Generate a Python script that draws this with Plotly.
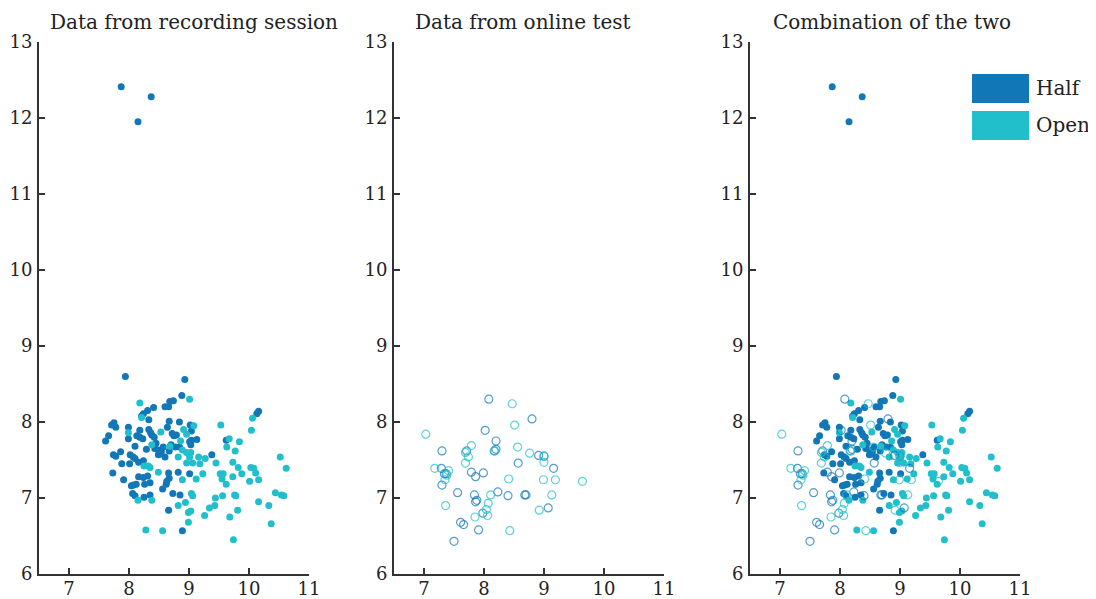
import plotly.graph_objects as go

# recording session, "Half" condition
rec_half_x = [7.87, 8.37, 8.15,
              7.94, 8.93, 8.88, 8.68, 8.74, 8.41, 8.31, 8.24, 8.21, 8.33, 8.60, 8.66,
              8.67, 8.84, 9.02, 7.75, 7.71, 7.78, 7.99, 8.18, 8.33, 8.36, 8.38, 8.42,
              8.64, 9.04, 7.66, 7.61, 7.99, 8.13, 8.18, 8.23, 8.72, 8.75, 8.79, 9.01,
              9.04, 9.13, 9.03, 8.10, 8.29, 8.43, 8.49, 8.54, 8.57, 8.67, 8.77, 8.84,
              7.86, 7.74, 7.78, 8.02, 8.07, 8.10, 8.49, 8.60, 8.16, 7.88, 8.01, 8.24,
              9.38, 9.62, 10.13, 10.16, 7.73, 7.91, 8.16, 8.24, 8.31, 8.35, 8.66, 8.67,
              8.63, 8.62, 8.82, 9.01, 8.04, 8.08, 8.12, 8.26, 8.06, 8.10, 8.25, 8.35,
              8.56, 8.73, 8.85, 8.66, 8.89, 8.70, 8.52, 8.45]
rec_half_y = [12.41, 12.28, 11.95,
              8.60, 8.56, 8.35, 8.27, 8.28, 8.19, 8.15, 8.11, 8.08, 8.03, 8.20, 8.20,
              8.01, 8.00, 7.96, 7.99, 7.96, 7.93, 7.93, 7.89, 7.90, 7.86, 7.83, 7.80,
              7.93, 7.88, 7.82, 7.75, 7.78, 7.82, 7.80, 7.78, 7.85, 7.82, 7.83, 7.74,
              7.76, 7.77, 7.70, 7.68, 7.64, 7.65, 7.63, 7.61, 7.67, 7.62, 7.67, 7.67,
              7.61, 7.57, 7.55, 7.57, 7.54, 7.52, 7.57, 7.54, 7.47, 7.45, 7.45, 7.49,
              7.57, 7.76, 8.11, 8.14, 7.33, 7.24, 7.28, 7.27, 7.29, 7.20, 7.33, 7.26,
              7.22, 7.18, 7.34, 7.32, 7.16, 7.17, 7.18, 7.18, 7.06, 7.03, 7.01, 7.04,
              7.12, 7.06, 7.04, 6.84, 6.57, 7.70, 7.58, 7.72]

# recording session, "Open" condition
rec_open_x = [8.18, 9.01, 8.21, 7.99, 8.53, 8.91, 8.96, 9.08, 8.86, 8.38, 8.68, 8.89,
              8.96, 9.03, 8.82, 9.01, 8.25, 8.32, 8.35, 8.49, 8.96, 9.06, 9.18, 9.27,
              9.16, 8.89, 9.12, 9.23, 9.53, 10.06, 10.04, 9.67, 9.84, 9.63, 9.77, 9.45,
              9.52, 9.57, 9.55, 9.62, 9.73, 9.82, 9.73, 9.88, 10.03, 10.08, 10.11, 10.16,
              10.01, 10.52, 10.62, 9.56, 9.44, 9.04, 9.06, 8.94, 8.82, 9.03, 8.99, 9.34,
              9.43, 9.26, 9.76, 9.78, 9.81, 9.68, 10.16, 10.33, 10.44, 10.54, 10.58, 10.37,
              8.99, 8.28, 8.56, 9.74, 8.15, 8.38]
rec_open_y = [8.25, 8.30, 8.06, 7.86, 7.87, 7.90, 7.84, 7.95, 7.75, 7.70, 7.68, 7.63,
              7.60, 7.60, 7.54, 7.54, 7.42, 7.42, 7.40, 7.34, 7.46, 7.46, 7.45, 7.52,
              7.54, 7.24, 7.25, 7.32, 7.96, 8.05, 7.89, 7.78, 7.74, 7.67, 7.62, 7.46,
              7.32, 7.32, 7.25, 7.18, 7.47, 7.40, 7.28, 7.32, 7.40, 7.39, 7.33, 7.24,
              7.22, 7.54, 7.39, 7.03, 7.00, 7.06, 7.03, 6.94, 6.90, 6.83, 6.81, 6.87,
              6.90, 6.77, 7.04, 7.03, 6.84, 6.75, 6.95, 6.90, 7.07, 7.04, 7.03, 6.66,
              6.68, 6.58, 6.57, 6.45, 6.97, 6.97]

# online test, "Half" condition
onl_half_x = [8.08, 8.80, 8.02, 8.20, 7.71, 7.30, 8.20, 8.17, 8.57, 8.91, 9.16, 7.29,
              7.34, 7.37, 7.79, 7.99, 7.86, 7.30, 7.56, 7.84, 7.86, 8.23, 8.40, 8.68,
              8.70, 9.07, 7.98, 7.61, 7.66, 7.91, 7.50, 7.88, 9.00]
onl_half_y = [8.30, 8.04, 7.89, 7.75, 7.62, 7.62, 7.64, 7.62, 7.46, 7.56, 7.39, 7.39,
              7.32, 7.32, 7.34, 7.33, 7.28, 7.17, 7.07, 7.04, 6.95, 7.08, 7.03, 7.04,
              7.04, 6.87, 6.80, 6.68, 6.65, 6.58, 6.43, 6.97, 7.55]

# online test, "Open" condition
onl_open_x = [8.47, 8.51, 7.03, 7.79, 7.69, 7.74, 7.69, 8.18, 8.56, 8.76, 9.00, 9.00,
              7.18, 7.41, 7.35, 8.41, 8.99, 9.19, 9.64, 8.11, 8.07, 8.04, 8.06, 7.85,
              7.36, 9.13, 8.92, 8.43, 7.38]
onl_open_y = [8.24, 7.96, 7.84, 7.69, 7.60, 7.54, 7.46, 7.62, 7.67, 7.59, 7.55, 7.47,
              7.39, 7.36, 7.24, 7.25, 7.24, 7.24, 7.22, 7.04, 6.93, 6.85, 6.77, 6.75,
              6.90, 7.04, 6.84, 6.57, 7.30]

panel_titles = ["Data from recording session", "Data from online test", "Combination of the two"]
x_ticks = [7, 8, 9, 10, 11]
y_ticks = [6, 7, 8, 9, 10, 11, 12, 13]

HALF = "#1277b7"
OPEN = "#21bfcb"
HALF_LINE = "rgba(18,119,183,0.72)"
OPEN_LINE = "rgba(33,191,203,0.72)"
FONT = "DejaVu Serif"

fig = go.Figure()


def filled(x, y, color, ax):
    fig.add_trace(go.Scatter(x=x, y=y, mode="markers", xaxis="x" + ax, yaxis="y" + ax,
                             marker=dict(size=7, color=color, line=dict(width=0)),
                             showlegend=False, hoverinfo="x+y"))


def hollow(x, y, color, ax):
    fig.add_trace(go.Scatter(x=x, y=y, mode="markers", xaxis="x" + ax, yaxis="y" + ax,
                             marker=dict(size=8, symbol="circle-open", color=color,
                                         line=dict(width=1.2, color=color)),
                             showlegend=False, hoverinfo="x+y"))


# panel 1: recording session
filled(rec_half_x, rec_half_y, HALF, "")
filled(rec_open_x, rec_open_y, OPEN, "")
# panel 2: online test
hollow(onl_half_x, onl_half_y, HALF_LINE, "2")
hollow(onl_open_x, onl_open_y, OPEN_LINE, "2")
# panel 3: both
filled(rec_half_x, rec_half_y, HALF, "3")
filled(rec_open_x, rec_open_y, OPEN, "3")
hollow(onl_half_x, onl_half_y, HALF_LINE, "3")
hollow(onl_open_x, onl_open_y, OPEN_LINE, "3")

# page has an 8px body margin, so the figure is a bit smaller and shifted
OFF = 8
W, H = 1096 - OFF, 599 - OFF
ML, MR, MT, MB = 39 - OFF, 76, 42 - OFF, 25
PW = W - ML - MR
PH = H - MT - MB


def px(x):
    # page pixel -> paper fraction
    return (x - OFF - ML) / PW


def py(y):
    return (OFF + H - MB - y) / PH


domains = [[px(39), px(309)], [px(394), px(664)], [px(750), px(1020)]]

axis_common = dict(showgrid=False, zeroline=False, showline=True, linecolor="#333333",
                   linewidth=1.8, ticks="inside", ticklen=6, tickwidth=1.8,
                   tickcolor="#333333", automargin=False,
                   tickfont=dict(family=FONT, size=18, color="#222222"))

layout = dict(width=W, height=H, margin=dict(l=ML, r=MR, t=MT, b=MB),
              plot_bgcolor="white", paper_bgcolor="white", showlegend=False,
              font=dict(family=FONT, size=18, color="#222222"))

for i, suffix in enumerate(["", "2", "3"]):
    layout["xaxis" + suffix] = dict(axis_common, domain=domains[i], range=[6.5, 11],
                                    tickvals=x_ticks, anchor="y" + suffix,
                                    ticklabelstandoff=-3)
    layout["yaxis" + suffix] = dict(axis_common, domain=[0, 1], range=[6, 13],
                                    tickvals=y_ticks, anchor="x" + suffix,
                                    ticklabelstandoff=1)

fig.update_layout(**layout)

title_centers = [194, 523, 892]
for t, cx in zip(panel_titles, title_centers):
    fig.add_annotation(text=t, x=px(cx), y=py(22), xref="paper", yref="paper",
                       showarrow=False, xanchor="center", yanchor="middle",
                       font=dict(family=FONT, size=20, color="#222222"))

# legend drawn as swatches with labels
legend_items = [("Half", HALF, 74, 103), ("Open", OPEN, 111, 140)]
for name, col, top, bot in legend_items:
    fig.add_shape(type="rect", xref="paper", yref="paper", x0=px(972), x1=px(1029),
                  y0=py(bot), y1=py(top), fillcolor=col, line=dict(width=0))
    fig.add_annotation(text=name, x=px(1034), y=py((top + bot) / 2), xref="paper",
                       yref="paper", showarrow=False, xanchor="left", yanchor="middle",
                       font=dict(family=FONT, size=20, color="#222222"))

fig.write_html("out.html")
